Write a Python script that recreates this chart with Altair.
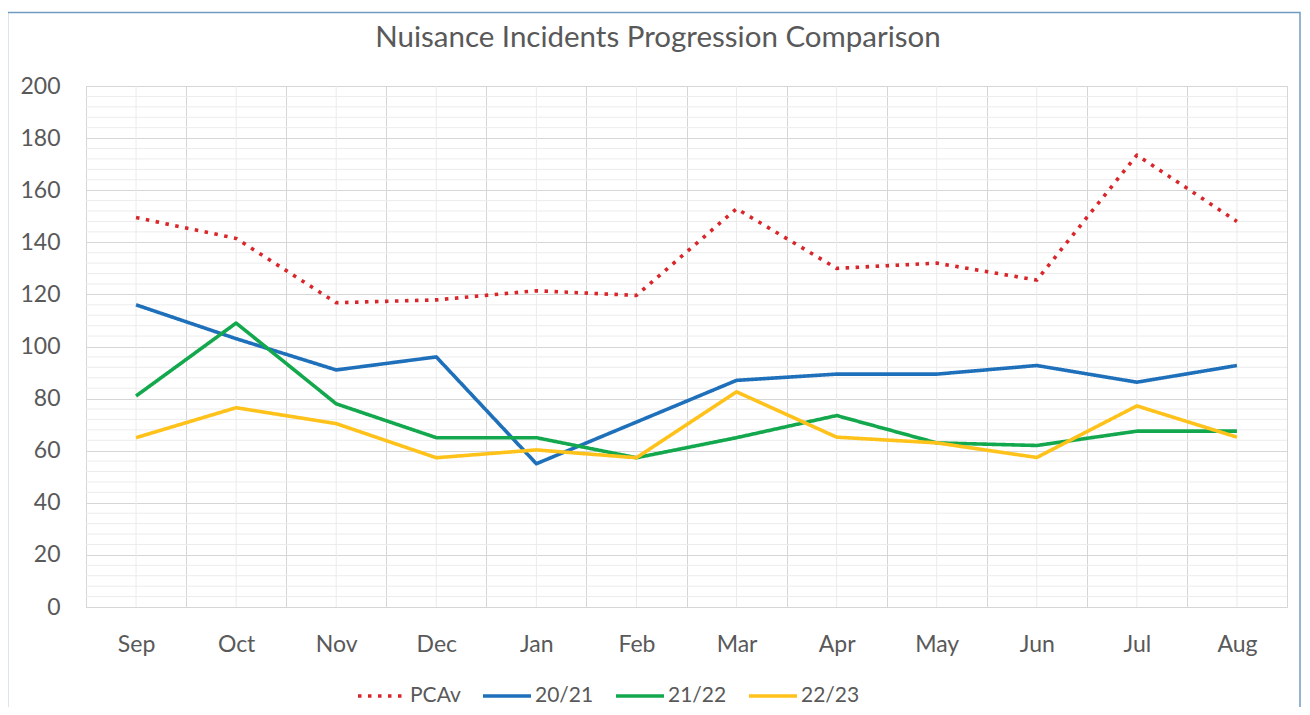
import altair as alt
import pandas as pd

title_text = "Nuisance Incidents Progression Comparison"
months = ["Sep", "Oct", "Nov", "Dec", "Jan", "Feb", "Mar", "Apr", "May", "Jun", "Jul", "Aug"]
series_names = ["PCAv", "20/21", "21/22", "22/23"]
pcav = [149.5, 141.5, 116.8, 117.9, 121.4, 119.6, 152.9, 130.0, 132.0, 125.5, 173.5, 148.0]
s2021 = [116.0, 103.0, 91.0, 96.0, 55.0, 71.0, 87.0, 89.4, 89.4, 92.7, 86.3, 92.7]
s2122 = [81.0, 109.0, 78.0, 65.0, 65.0, 57.3, 65.0, 73.5, 63.0, 62.0, 67.5, 67.5]
s2223 = [65.0, 76.5, 70.4, 57.3, 60.3, 57.3, 82.6, 65.2, 63.0, 57.4, 77.2, 65.2]
major_ticks = list(range(0, 201, 20))
minor_ticks = [v for v in range(4, 200, 4) if v % 20 != 0]

colors = ["#D9262B", "#1F70BA", "#13A84D", "#FFC21A"]
dashes = [[3.5, 6.5], [1, 0], [1, 0], [1, 0]]

rows = []
for name, vals in zip(series_names, [pcav, s2021, s2122, s2223]):
    for i, (m, v) in enumerate(zip(months, vals)):
        rows.append({"series": name, "month": m, "value": v, "idx": i})
df = pd.DataFrame(rows)
df_months = pd.DataFrame({"month": months})
df_minor = pd.DataFrame({"v": minor_ticks})
df_title = pd.DataFrame({"t": [title_text]})

FONT = "Lato"
GRAY = "#595959"
W, H = 1201, 521

xscale = alt.Scale(type="band", domain=months, paddingInner=0, paddingOuter=0)
yscale = alt.Scale(domain=[0, 200], nice=False)

xaxis = alt.Axis(
    title=None,
    tickBand="extent",
    grid=True,
    gridColor="#d6d6d6",
    ticks=False,
    domain=False,
    labelAngle=0,
    labelFont=FONT,
    labelFontSize=23,
    labelColor=GRAY,
    labelPadding=26,
)
yaxis = alt.Axis(
    title=None,
    values=major_ticks,
    grid=True,
    gridColor="#d6d6d6",
    ticks=False,
    domain=False,
    labelFont=FONT,
    labelFontSize=23,
    labelColor=GRAY,
    labelPadding=26,
)

minor_h = alt.Chart(df_minor).mark_rule(color="#ececec", strokeWidth=1).encode(
    y=alt.Y("v:Q", scale=yscale, axis=yaxis, title=None)
)
center_v = alt.Chart(df_months).mark_rule(color="#ebebeb", strokeWidth=1).encode(
    x=alt.X("month:N", scale=xscale, sort=months, bandPosition=0.5, axis=xaxis, title=None)
)

lines = alt.Chart(df).mark_line(strokeWidth=3.6, strokeJoin="round").encode(
    x=alt.X("month:N", scale=xscale, sort=months, bandPosition=0.5, axis=xaxis, title=None),
    y=alt.Y("value:Q", scale=yscale, axis=yaxis, title=None),
    color=alt.Color(
        "series:N",
        scale=alt.Scale(domain=series_names, range=colors),
        legend=alt.Legend(
            title=None,
            orient="none",
            direction="horizontal",
            legendX=270,
            legendY=584,
            symbolType="stroke",
            symbolSize=2304,
            symbolStrokeWidth=3.6,
            labelFont=FONT,
            labelFontSize=21,
            labelColor=GRAY,
            labelOffset=2,
            columnPadding=14,
        ),
    ),
    strokeDash=alt.StrokeDash(
        "series:N",
        scale=alt.Scale(domain=series_names, range=dashes),
        legend=None,
    ),
    order=alt.Order("idx:Q"),
)

title_mark = alt.Chart(df_title).mark_text(
    font=FONT, fontSize=29.5, color=GRAY, align="center", baseline="middle"
).encode(
    text="t:N", x=alt.value(572), y=alt.value(-48)
)

frame = alt.Chart(df_months.head(1)).mark_rect(
    fill=None, stroke="#6f9cc0", strokeWidth=1.5
).encode(
    x=alt.value(-78.5), x2=alt.value(1214), y=alt.value(-73.5), y2=alt.value(700)
)

chart = alt.layer(minor_h, center_v, lines, title_mark, frame).properties(
    width=W,
    height=H,
    autosize=alt.AutoSizeParams(type="none"),
    padding={"left": 78, "top": 78, "right": 15, "bottom": 100},
).configure_view(stroke=None).configure(background="white")

chart.save("out.html", embed_options={"renderer": "svg", "actions": False})
